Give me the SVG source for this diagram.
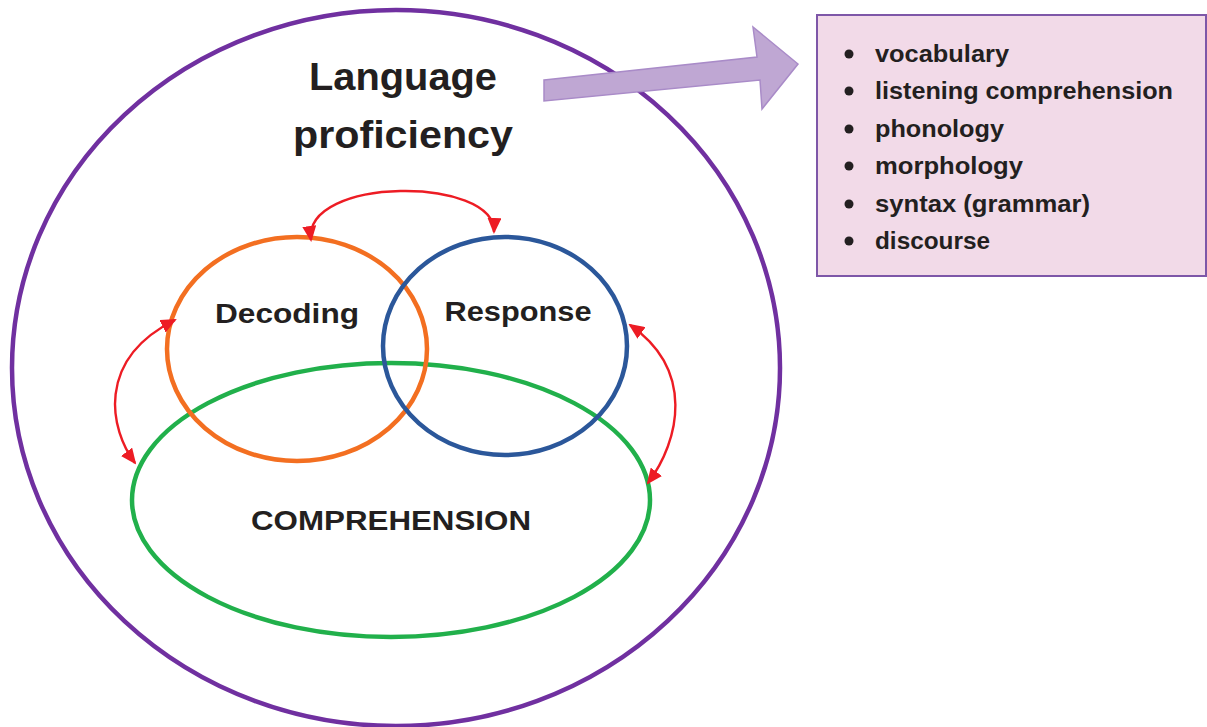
<svg xmlns="http://www.w3.org/2000/svg" width="1207" height="727" viewBox="0 0 1207 727">
<defs>
<marker id="ah" viewBox="0 0 16 14" refX="14" refY="7" markerWidth="16" markerHeight="14" orient="auto-start-reverse" markerUnits="userSpaceOnUse">
<path d="M0,0 L16,7 L0,14 z" fill="#ED1C24"/>
</marker>
<style>
text{font-family:"Liberation Sans",Arial,sans-serif;font-weight:bold;fill:#231F20}
.ring{fill:none}
.conn{fill:none;stroke:#ED1C24;stroke-width:2.4}
.item{font-size:23px}
</style>
</defs>
<rect width="1207" height="727" fill="#fff"/>
<g id="language-proficiency">
<ellipse cx="396" cy="368" rx="384" ry="358" class="ring" stroke="#7030A0" stroke-width="4.5"/>
<text x="403" y="90" font-size="39" text-anchor="middle" textLength="188" lengthAdjust="spacingAndGlyphs">Language</text>
<text x="403" y="148" font-size="39" text-anchor="middle" textLength="220" lengthAdjust="spacingAndGlyphs">proficiency</text>
</g>
<g id="comprehension">
<ellipse cx="391" cy="500" rx="259" ry="137" class="ring" stroke="#21B04B" stroke-width="4.5"/>
<text x="391" y="530" font-size="27" text-anchor="middle" textLength="280" lengthAdjust="spacingAndGlyphs">COMPREHENSION</text>
</g>
<g id="decoding">
<ellipse cx="297" cy="349" rx="130" ry="112" class="ring" stroke="#F36F21" stroke-width="4.5"/>
<text x="287" y="323" font-size="28" text-anchor="middle" textLength="144" lengthAdjust="spacingAndGlyphs">Decoding</text>
</g>
<g id="response">
<ellipse cx="505" cy="346" rx="122" ry="109" class="ring" stroke="#2B579A" stroke-width="4.5"/>
<text x="518" y="321" font-size="28" text-anchor="middle" textLength="147" lengthAdjust="spacingAndGlyphs">Response</text>
</g>
<g id="list-box">
<rect x="817" y="15" width="389" height="261" fill="#F2DAE8" stroke="#7E57A8" stroke-width="2"/>
<g fill="#231F20">
<circle cx="849" cy="54" r="4.5"/>
<circle cx="849" cy="91" r="4.5"/>
<circle cx="849" cy="129" r="4.5"/>
<circle cx="849" cy="166" r="4.5"/>
<circle cx="849" cy="204" r="4.5"/>
<circle cx="849" cy="241" r="4.5"/>
</g>
<text class="item" x="875" y="62" textLength="134" lengthAdjust="spacingAndGlyphs">vocabulary</text>
<text class="item" x="875" y="99" textLength="298" lengthAdjust="spacingAndGlyphs">listening comprehension</text>
<text class="item" x="875" y="137" textLength="129" lengthAdjust="spacingAndGlyphs">phonology</text>
<text class="item" x="875" y="174" textLength="148" lengthAdjust="spacingAndGlyphs">morphology</text>
<text class="item" x="875" y="212" textLength="215" lengthAdjust="spacingAndGlyphs">syntax (grammar)</text>
<text class="item" x="875" y="249" textLength="115" lengthAdjust="spacingAndGlyphs">discourse</text>
</g>
<g id="connectors">
<path d="M544,80 L757,57 L753,27 L798,64 L762,109 L760,80 L544,101 Z" fill="#BFA7D3" stroke="#A98BC8" stroke-width="1.5"/>
<path class="conn" d="M311,240 C303,176 496,176 494,232" marker-start="url(#ah)" marker-end="url(#ah)"/>
<path class="conn" d="M175,320 C95,360 110,430 135,463" marker-start="url(#ah)" marker-end="url(#ah)"/>
<path class="conn" d="M630,325 C695,370 680,440 648,483" marker-start="url(#ah)" marker-end="url(#ah)"/>
</g>
</svg>
